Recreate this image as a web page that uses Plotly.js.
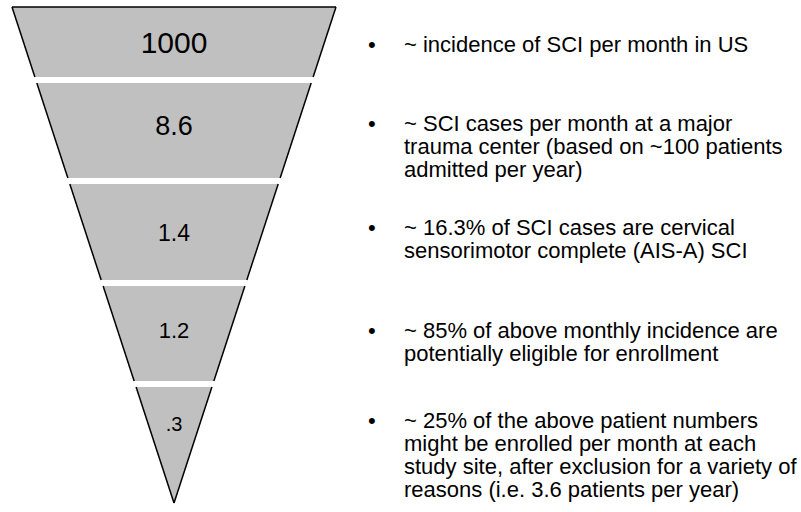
<!DOCTYPE html>
<html><head><meta charset="utf-8">
<script src="https://cdn.plot.ly/plotly-3.0.1.min.js"></script>
<style>html,body{margin:0;padding:0;background:#fff;}#chart{width:801px;height:512px;}</style>
</head><body><div id="chart"></div>
<script>
// ---- data ----
const stageLabels = ['1000', '8.6', '1.4', '1.2', '.3'];
const bullet1 = ['~ incidence of SCI per month in US'];
const bullet2 = ['~ SCI cases per month at a major', 'trauma center (based on ~100 patients', 'admitted per year)'];
const bullet3 = ['~ 16.3% of SCI cases are cervical', 'sensorimotor complete (AIS-A) SCI'];
const bullet4 = ['~ 85% of above monthly incidence are', 'potentially eligible for enrollment'];
const bullet5 = ['~ 25% of the above patient numbers', 'might be enrolled per month at each', 'study site, after exclusion for a variety of', 'reasons (i.e. 3.6 patients per year)'];
const bullets = [bullet1, bullet2, bullet3, bullet4, bullet5];

// ---- geometry / styling (layout, not data) ----
const FUNNEL = {cx: 174, top: 7, apex: 503, halfTop: 162};
const bandTops = [7, 83, 184, 286, 387];
const bandBottoms = [77, 178, 280, 381, 503];
const labelY = [45, 128, 235, 332, 426];
const labelSize = [30, 27, 23, 22, 20];
const bulletY = [44, 123, 227, 330, 420];
const LINE_GAP = 23;
const BULLET_X = 372, TEXT_X = 402;
const FONT = 'Liberation Sans, Arial, sans-serif';
const FILL = '#c0c0c0';

function hw(y) { return FUNNEL.halfTop * (FUNNEL.apex - y) / (FUNNEL.apex - FUNNEL.top); }

const traces = [];
stageLabels.forEach((lab, i) => {
  const t = bandTops[i], b = bandBottoms[i];
  traces.push({
    type: 'scatter', mode: 'lines', fill: 'toself', fillcolor: FILL,
    line: {width: 0, color: 'rgba(0,0,0,0)'}, hoverinfo: 'skip',
    x: [FUNNEL.cx - hw(t), FUNNEL.cx + hw(t), FUNNEL.cx + hw(b), FUNNEL.cx - hw(b), FUNNEL.cx - hw(t)],
    y: [t, t, b, b, t]
  });
});
// outline
const ox = [], oy = [];
ox.push(FUNNEL.cx - hw(FUNNEL.top), FUNNEL.cx + hw(FUNNEL.top), null);
oy.push(FUNNEL.top, FUNNEL.top, null);
stageLabels.forEach((lab, i) => {
  const t = bandTops[i], b = bandBottoms[i];
  ox.push(FUNNEL.cx - hw(t), FUNNEL.cx - hw(b), null, FUNNEL.cx + hw(t), FUNNEL.cx + hw(b), null);
  oy.push(t, b, null, t, b, null);
});
traces.push({type: 'scatter', mode: 'lines', x: ox, y: oy, line: {color: '#000', width: 1.5}, hoverinfo: 'skip', connectgaps: false});
// labels
traces.push({
  type: 'scatter', mode: 'text', x: stageLabels.map(() => FUNNEL.cx), y: labelY,
  text: stageLabels, textposition: 'middle center',
  textfont: {family: FONT, size: labelSize, color: '#000'}, hoverinfo: 'skip'
});

const annotations = [];
bullets.forEach((lines, i) => {
  annotations.push({x: BULLET_X, y: bulletY[i], xref: 'x', yref: 'y', text: '•', showarrow: false,
    xanchor: 'center', yanchor: 'middle', font: {family: FONT, size: 22, color: '#000'}});
  lines.forEach((ln, j) => {
    annotations.push({x: TEXT_X, y: bulletY[i] + j * LINE_GAP, xref: 'x', yref: 'y', text: ln, showarrow: false,
      xanchor: 'left', yanchor: 'middle', font: {family: FONT, size: 22, color: '#000'}});
  });
});

const layout = {
  width: 801, height: 512, margin: {l: 0, r: 0, t: 0, b: 0},
  paper_bgcolor: '#fff', plot_bgcolor: '#fff', showlegend: false,
  xaxis: {range: [0, 801], visible: false, fixedrange: true},
  yaxis: {range: [512, 0], visible: false, fixedrange: true},
  annotations: annotations
};
Plotly.newPlot('chart', traces, layout, {staticPlot: true, displayModeBar: false});
</script></body></html>
